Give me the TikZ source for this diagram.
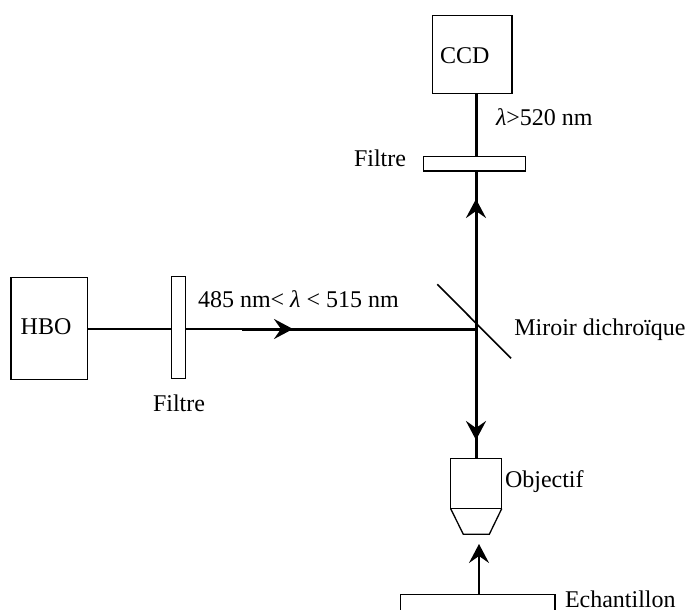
\documentclass[tikz,border=0pt]{standalone}
\usepackage{fontspec}
\setmainfont{Liberation Serif}
\usetikzlibrary{arrows.meta}
\tikzset{
  boxnode/.style={draw=black,line width=1.3pt,fill=white,inner sep=0pt,outer sep=0pt},
  lab/.style={anchor=base west,inner sep=0pt,outer sep=0pt,font=\fontsize{24}{28}\selectfont,text=black},
  beam/.style={line width=3pt,draw=black},
  thinbeam/.style={line width=2.8pt,draw=black},
  tiphead/.style={-{Stealth[length=19pt,width=20pt,inset=7pt]}},
  outline/.style={line width=1.3pt,draw=black,line join=miter}
}
\begin{document}
\begin{tikzpicture}[x=1pt,y=-1pt]
\useasboundingbox (0,0) rectangle (689,610);
% named points of the optical path
\coordinate (junction) at (476,329);
\coordinate (mirrorA) at (437.3,284.3);
\coordinate (mirrorB) at (511,358.3);
\coordinate (tipRight) at (293,329);
\coordinate (tipUp) at (476,199);
\coordinate (tipDown) at (476,440);
\coordinate (tipDownInner) at (476,432);
\coordinate (tipSample) at (479,544);
\coordinate (thickStart) at (242,329);
% boxes
\node[boxnode,minimum width=79.5pt,minimum height=78pt] (ccd) at (472.2,54.7) {};
\node[boxnode,minimum width=76.7pt,minimum height=102pt] (hbo) at (49.3,328.7) {};
\node[boxnode,minimum width=154.3pt,minimum height=60pt] (sample) at (477.8,624.3) {};
\node[boxnode,minimum width=51pt,minimum height=50.4pt] (objBody) at (476.2,483.5) {};
% beams
\draw[beam] (ccd.south -| junction) -- (junction);
\draw[thinbeam] (hbo.east |- junction) -- (thickStart);
\draw[beam] (thickStart) -- (junction);
\draw[beam,tiphead] (junction) -- (tipUp);
\draw[beam,tiphead] (thickStart) -- (tipRight);
\draw[beam,tiphead] (junction) -- (tipDown);
\draw[beam] (tipDownInner) -- (objBody.north -| tipDown);
\draw[line width=1.8pt,draw=black,tiphead] (sample.north -| tipSample) -- (tipSample);
% filters on top of the beams
\node[boxnode,minimum width=102pt,minimum height=14.3pt] (filterTop) at (474.7,163.8) {};
\node[boxnode,minimum width=14.4pt,minimum height=102pt] (filterLeft) at (178.5,327.3) {};
% mirror
\draw[line width=1.6pt,draw=black] (mirrorA) -- (mirrorB);
% objective
\draw[outline] (objBody.south west) -- (463.3,534.3) -- (489.3,534.3) -- (objBody.south east);
% labels
\node[lab] (tCCD) at (440,64) {CCD};
\node[lab] (tLambda) at (496,125) {\textit{λ}>520 nm};
\node[lab] (tFiltreTop) at (354,166.7) {Filtre};
\node[lab] (tHBO) at (20.7,334) {HBO};
\node[lab] (tBand) at (198,307.7) {485 nm< \textit{λ} < 515 nm};
\node[lab] (tFiltreLeft) at (153,411.7) {Filtre};
\node[lab] (tMiroir) at (514.3,335.7) {Miroir dichroïque};
\node[lab] (tObjectif) at (505,487) {Objectif};
\node[lab] (tEch) at (565,607.5) {Echantillon};
\end{tikzpicture}
\end{document}
